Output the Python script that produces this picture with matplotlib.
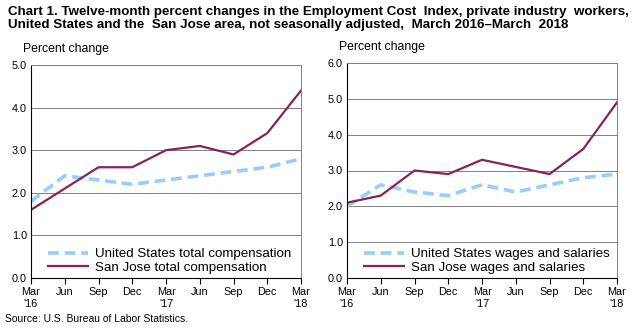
import matplotlib
matplotlib.use("Agg")
import matplotlib.pyplot as plt

plt.rcParams['font.family'] = ['Liberation Sans', 'DejaVu Sans']

months = ["Mar\n'16", "Jun", "Sep", "Dec", "Mar\n'17", "Jun", "Sep", "Dec", "Mar\n'18"]
us_total = [1.8, 2.4, 2.3, 2.2, 2.3, 2.4, 2.5, 2.6, 2.8]
sj_total = [1.6, 2.1, 2.6, 2.6, 3.0, 3.1, 2.9, 3.4, 4.4]
us_wages = [2.0, 2.6, 2.4, 2.3, 2.6, 2.4, 2.6, 2.8, 2.9]
sj_wages = [2.1, 2.3, 3.0, 2.9, 3.3, 3.1, 2.9, 3.6, 4.9]

title = ("Chart 1. Twelve-month percent changes in the Employment Cost  Index, private industry  workers,\n"
         "United States and the  San Jose area, not seasonally adjusted,  March 2016\u2013March  2018")

fig = plt.figure(figsize=(6.38, 3.28), dpi=100)
fig.text(0.012, 0.982, title, ha='left', va='top', fontsize=9.6, fontweight='bold', linespacing=1.15)
fig.text(0.008, 0.012, "Source: U.S. Bureau of Labor Statistics.", fontsize=7.5, ha='left', va='bottom')

us_color = '#99CCFF'
sj_color = '#862457'
grid_color = '#808080'

def setup(ax, us, sj, ymax, us_lab, sj_lab):
    x = list(range(len(months)))
    ax.plot(x, us, color=us_color, lw=2.6, dashes=(3, 1.6), label=us_lab)
    ax.plot(x, sj, color=sj_color, lw=1.6, label=sj_lab)
    ax.set_xlim(0, len(months) - 1)
    ax.set_ylim(0, ymax)
    ticks = [i * 1.0 for i in range(int(ymax) + 1)]
    ax.set_yticks(ticks)
    ax.set_yticklabels([f"{t:.1f}" for t in ticks], fontsize=7.8)
    ax.set_xticks(x)
    ax.set_xticklabels(months, fontsize=7.8, linespacing=1.3)
    ax.tick_params(axis='y', length=0, pad=3)
    ax.tick_params(axis='x', length=4, direction='out', pad=2.5, width=0.8)
    ax.grid(axis='y', color=grid_color, lw=0.7)
    ax.set_axisbelow(True)
    for s in ['top', 'right']:
        ax.spines[s].set_color('#808080')
        ax.spines[s].set_linewidth(0.7)
    ax.spines['left'].set_color('black')
    ax.spines['bottom'].set_color('black')
    ax.spines['left'].set_linewidth(0.8)
    ax.spines['bottom'].set_linewidth(0.8)
    ax.legend(loc='lower left', bbox_to_anchor=(0.03, -0.025), frameon=True, fontsize=9.6,
              handlelength=3.0, handletextpad=0.5, borderpad=0.2, labelspacing=0.1,
              facecolor='white', edgecolor='none', framealpha=1)
    ax.text(-0.03, 1.045, "Percent change", transform=ax.transAxes, fontsize=8.8, ha='left', va='bottom')

ax1 = fig.add_axes([31/638, 1 - 278/328, 270/638, 213/328])
setup(ax1, us_total, sj_total, 5.0, "United States total compensation", "San Jose total compensation")
ax2 = fig.add_axes([347/638, 1 - 278/328, 270/638, 215/328])
setup(ax2, us_wages, sj_wages, 6.0, "United States wages and salaries", "San Jose wages and salaries")

fig.savefig("out.png", dpi=100)
